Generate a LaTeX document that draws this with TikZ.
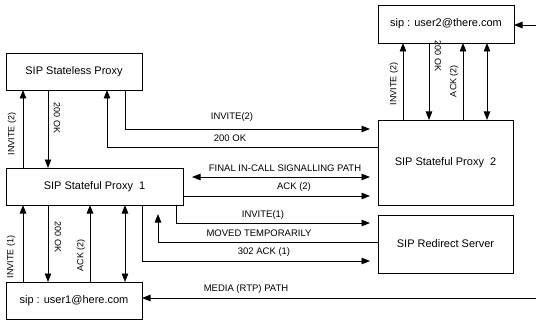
\documentclass[tikz,border=0pt]{standalone}
\usepackage{fontspec}
\setmainfont{Liberation Sans}
\usetikzlibrary{arrows.meta}
\begin{document}
\begin{tikzpicture}[x=1pt,y=-1pt,
 box/.style={draw, line width=0.9pt, inner sep=0pt, outer sep=0pt, font=\fontsize{11}{13}\selectfont},
 arr/.style={line width=0.9pt, -{Triangle[length=8.5pt,width=6.5pt]}},
 darr/.style={line width=0.9pt, {Triangle[length=8.5pt,width=6.5pt]}-{Triangle[length=8.5pt,width=6.5pt]}},
 lbl/.style={font=\fontsize{9.5}{11}\selectfont, inner sep=0pt},
 vlbl/.style={font=\fontsize{9}{11}\selectfont, inner sep=0pt},
]
\useasboundingbox (0,0) rectangle (536,321);
% boxes
\node[box, minimum width=136pt, minimum height=37pt] (sl) at (74,71.5) {SIP Stateless Proxy};
\node[box, minimum width=177pt, minimum height=37pt] (p1) at (94.5,186.5) {SIP Stateful Proxy\ \ 1};
\node[box, minimum width=136pt, minimum height=37pt] (u1) at (74,300.5) {sip : user1@here.com};
\node[box, minimum width=136pt, minimum height=38pt] (u2) at (446,24) {sip : user2@there.com};
\node[box, minimum width=135pt, minimum height=85pt] (p2) at (445.5,162.5) {SIP Stateful Proxy\ \ 2};
\node[box, minimum width=135pt, minimum height=58pt] (rs) at (445.5,244) {SIP Redirect Server};
% helper coordinates
\coordinate (c23) at (23,0);
\coordinate (c48) at (48,0);
\coordinate (c90) at (90,0);
\coordinate (c107) at (107,0);
\coordinate (c125) at (125,0);
\coordinate (c142) at (142,0);
\coordinate (c158) at (158,0);
\coordinate (c176) at (176,0);
\coordinate (c192) at (192,0);
\coordinate (c403) at (403,0);
\coordinate (c429) at (429,0);
\coordinate (c463) at (463,0);
\coordinate (c487) at (487,0);
\coordinate (e370) at (370,0);
\coordinate (eR) at (536,0);
\coordinate (r25) at (0,25);
\coordinate (r129) at (0,129);
\coordinate (r147) at (0,147);
\coordinate (r177) at (0,177);
\coordinate (r196) at (0,196);
\coordinate (r214) at (0,214);
\coordinate (r223) at (0,223);
\coordinate (r242) at (0,242);
\coordinate (r261) at (0,261);
\coordinate (r298) at (0,298);
% stateless <-> proxy 1
\draw[arr] (p1.north -| c23) -- (sl.south -| c23);
\draw[arr] (sl.south -| c48) -- (p1.north -| c48);
% stateless <-> proxy 2
\draw[arr] (sl.south -| c125) |- (e370 |- r129);
\draw[arr] (p2.west |- r147) -| (sl.south -| c107);
% proxy 1 <-> proxy 2
\draw[darr] (c192 |- r177) -- (e370 |- r177);
\draw[arr] (p1.east |- r196) -- (e370 |- r196);
% proxy 1 <-> redirect
\draw[arr] (p1.south -| c176) |- (e370 |- r223);
\draw[arr] (rs.west |- r242) -| (c158 |- r214);
\draw[arr] (p1.south -| c142) |- (e370 |- r261);
% media & user2 input
\draw[arr] (eR |- r298) -- (u1.east |- r298);
\draw[arr] (eR |- r25) -- (u2.east |- r25);
% proxy 1 <-> user 1
\draw[arr] (u1.north -| c23) -- (p1.south -| c23);
\draw[arr] (p1.south -| c48) -- (u1.north -| c48);
\draw[arr] (u1.north -| c90) -- (p1.south -| c90);
\draw[darr] (p1.south -| c125) -- (u1.north -| c125);
% proxy 2 <-> user 2
\draw[arr] (p2.north -| c403) -- (u2.south -| c403);
\draw[arr] (u2.south -| c429) -- (p2.north -| c429);
\draw[arr] (p2.north -| c463) -- (u2.south -| c463);
\draw[darr] (u2.south -| c487) -- (p2.north -| c487);
% labels
\node[vlbl, rotate=90] (la) at (12,134) {INVITE (2)};
\node[vlbl, rotate=-90] (lb) at (57,118) {200 OK};
\node[lbl] (lc) at (232,117) {INVITE(2)};
\node[lbl] (ld) at (230,138) {200 OK};
\node[lbl] (le) at (285,168) {FINAL IN-CALL SIGNALLING PATH};
\node[lbl] (lf) at (294,187) {ACK (2)};
\node[lbl] (lg) at (263,215) {INVITE(1)};
\node[lbl] (lh) at (259,233) {MOVED TEMPORARILY};
\node[lbl] (li) at (264,252) {302 ACK (1)};
\node[lbl] (lj) at (246,289) {MEDIA (RTP) PATH};
\node[vlbl, rotate=90] (lk) at (11,257) {INVITE (1)};
\node[vlbl, rotate=-90] (ll) at (58,237) {200 OK};
\node[vlbl, rotate=90] (lm) at (81,255) {ACK (2)};
\node[vlbl, rotate=90] (ln) at (394,84) {INVITE (2)};
\node[vlbl, rotate=-90] (lo) at (438,56) {200 OK};
\node[vlbl, rotate=90] (lp) at (454,81) {ACK (2)};
\end{tikzpicture}
\end{document}
